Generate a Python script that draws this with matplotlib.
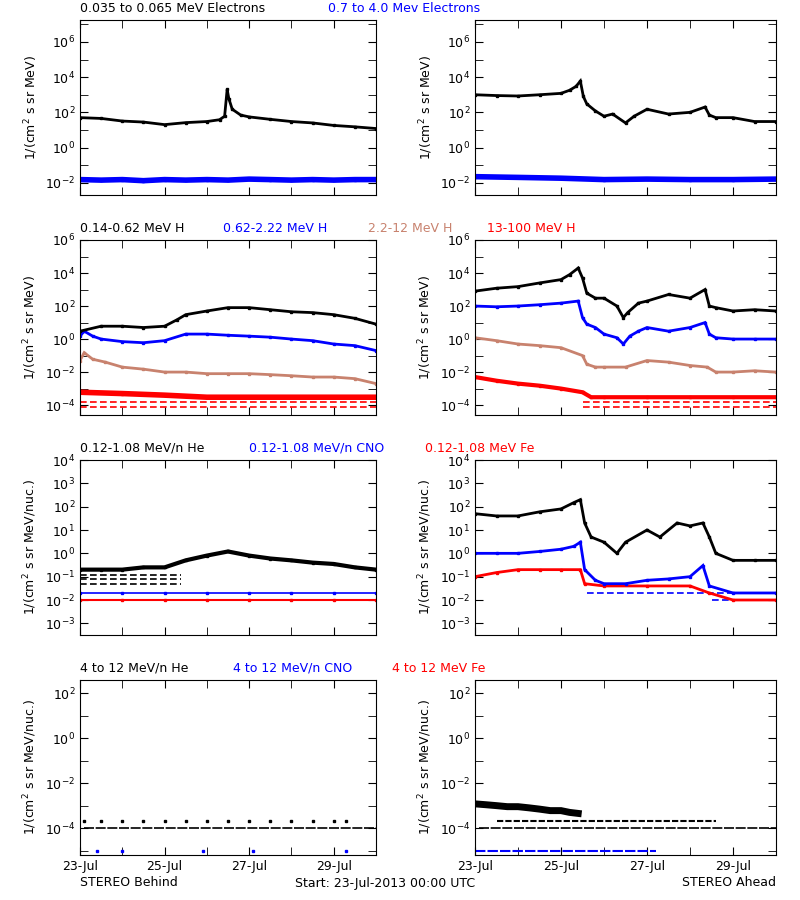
import numpy as np
import matplotlib
matplotlib.use("Agg")
import matplotlib.pyplot as plt
from matplotlib.ticker import FixedLocator, NullFormatter

# ---- data (days since 23-Jul-2013 00:00) ----
# row 1: electrons
e_lo_b_t = [0, 0.5, 1, 1.5, 2, 2.5, 3, 3.3, 3.42, 3.48, 3.52, 3.6, 3.8, 4, 4.5, 5, 5.5, 6, 6.5, 7]
e_lo_b_v = [50, 45, 32, 28, 20, 26, 30, 38, 60, 2000, 600, 150, 70, 55, 40, 30, 25, 18, 15, 12]
e_hi_b_t = [0, 0.5, 1, 1.5, 2, 2.5, 3, 3.5, 4, 4.5, 5, 5.5, 6, 6.5, 7]
e_hi_b_v = [0.015, 0.014, 0.015, 0.013, 0.015, 0.014, 0.015, 0.014, 0.016, 0.015, 0.014, 0.015, 0.014, 0.015, 0.015]
e_lo_a_t = [0, 0.5, 1, 1.5, 2, 2.2, 2.35, 2.45, 2.52, 2.6, 2.8, 3, 3.2, 3.5, 3.7, 4, 4.5, 5, 5.35, 5.45, 5.6, 6, 6.5, 7]
e_lo_a_v = [1000, 900, 850, 1000, 1200, 1800, 3000, 6000, 800, 300, 120, 60, 80, 25, 60, 150, 80, 100, 200, 70, 50, 50, 30, 30]
e_hi_a_t = [0, 1, 2, 3, 4, 5, 6, 7]
e_hi_a_v = [0.022, 0.02, 0.018, 0.015, 0.016, 0.015, 0.015, 0.016]

# row 2: protons
h1_b_t = [0, 0.5, 1, 1.5, 2, 2.3, 2.5, 3, 3.5, 4, 4.5, 5, 5.5, 6, 6.5, 7]
h1_b_v = [3, 6, 6, 5, 6, 15, 30, 50, 80, 80, 60, 45, 40, 30, 18, 8]
h2_b_t = [0, 0.1, 0.3, 0.5, 1, 1.5, 2, 2.5, 3, 3.5, 4, 4.5, 5, 5.5, 6, 6.5, 7]
h2_b_v = [1.5, 3, 1.5, 1, 0.7, 0.6, 0.8, 2, 2, 1.7, 1.5, 1.3, 1, 0.8, 0.5, 0.4, 0.2]
h3_b_t = [0, 0.1, 0.3, 0.6, 1, 1.5, 2, 2.5, 3, 3.5, 4, 4.5, 5, 5.5, 6, 6.5, 7]
h3_b_v = [0.05, 0.15, 0.06, 0.04, 0.02, 0.015, 0.01, 0.01, 0.008, 0.008, 0.008, 0.007, 0.006, 0.005, 0.005, 0.004, 0.002]
h4_b_t = [0, 1, 2, 3, 4, 5, 6, 7]
h4_b_v = [6e-4, 5e-4, 4e-4, 3e-4, 3e-4, 3e-4, 3e-4, 3e-4]
h1_a_t = [0, 0.5, 1, 1.5, 2, 2.2, 2.4, 2.5, 2.6, 2.8, 3, 3.3, 3.45, 3.55, 3.8, 4, 4.5, 5, 5.35, 5.45, 5.6, 6, 6.5, 7]
h1_a_v = [800, 1200, 1500, 2500, 4000, 8000, 20000, 5000, 600, 300, 300, 100, 20, 40, 150, 200, 500, 300, 1000, 100, 80, 50, 60, 50]
h2_a_t = [0, 0.5, 1, 1.5, 2, 2.4, 2.5, 2.6, 2.8, 3, 3.3, 3.45, 3.6, 3.8, 4, 4.5, 5, 5.35, 5.45, 5.6, 6, 6.5, 7]
h2_a_v = [100, 90, 100, 120, 150, 200, 20, 8, 5, 2, 1.2, 0.5, 1.5, 3, 5, 3, 5, 10, 2, 1.2, 1, 1, 1]
h3_a_t = [0, 0.5, 1, 1.5, 2, 2.5, 2.6, 2.8, 3, 3.5, 4, 4.5, 5, 5.4, 5.6, 6, 6.5, 7]
h3_a_v = [1.2, 0.8, 0.5, 0.4, 0.3, 0.1, 0.03, 0.02, 0.02, 0.02, 0.05, 0.04, 0.025, 0.02, 0.01, 0.01, 0.012, 0.01]
h4_a_t = [0, 0.5, 1, 1.5, 2, 2.5, 2.7, 3, 4, 5, 6, 7]
h4_a_v = [5e-3, 3e-3, 2e-3, 1.5e-3, 1e-3, 6e-4, 3e-4, 3e-4, 3e-4, 3e-4, 3e-4, 3e-4]
h_floor_levels = [1.5e-4, 8e-5]

# row 3: heavy ions, 0.12-1.08 MeV/n
he_b_t = [0, 0.5, 1, 1.5, 2, 2.5, 3, 3.5, 4, 4.5, 5, 5.5, 6, 6.5, 7]
he_b_v = [0.2, 0.2, 0.2, 0.25, 0.25, 0.5, 0.8, 1.2, 0.8, 0.6, 0.5, 0.4, 0.35, 0.25, 0.2]
he_b_levels = [0.12, 0.08, 0.05]
cno_b_t = [0, 1, 2, 3, 4, 5, 6, 7]
cno_b_v = [0.02, 0.02, 0.02, 0.02, 0.02, 0.02, 0.02, 0.02]
fe_b_t = [0, 1, 2, 3, 4, 5, 6, 7]
fe_b_v = [0.01, 0.01, 0.01, 0.01, 0.01, 0.01, 0.01, 0.01]
he_a_t = [0, 0.5, 1, 1.5, 2, 2.3, 2.45, 2.55, 2.7, 3, 3.3, 3.5, 4, 4.3, 4.7, 5, 5.3, 5.45, 5.6, 6, 6.5, 7]
he_a_v = [50, 40, 40, 60, 80, 150, 200, 20, 5, 3, 1, 3, 10, 5, 20, 15, 20, 5, 1, 0.5, 0.5, 0.5]
cno_a_t = [0, 0.5, 1, 1.5, 2, 2.3, 2.45, 2.55, 2.8, 3, 3.5, 4, 4.5, 5, 5.3, 5.45, 6, 7]
cno_a_v = [1, 1, 1, 1.2, 1.5, 2, 3, 0.2, 0.07, 0.05, 0.05, 0.07, 0.08, 0.1, 0.3, 0.04, 0.02, 0.02]
fe_a_t = [0, 0.5, 1, 1.5, 2, 2.45, 2.55, 3, 4, 5, 5.45, 6, 7]
fe_a_v = [0.1, 0.15, 0.2, 0.2, 0.2, 0.2, 0.05, 0.04, 0.04, 0.04, 0.02, 0.01, 0.01]

# row 4: heavy ions, 4-12 MeV/n
he4_b_t = [0.1, 0.5, 1, 1.5, 2, 2.5, 3, 3.5, 4, 4.5, 5, 5.5, 6, 6.3]
he4_b_v = [2e-4, 2e-4, 2e-4, 2e-4, 2e-4, 2e-4, 2e-4, 2e-4, 2e-4, 2e-4, 2e-4, 2e-4, 2e-4, 2e-4]
floor4 = 1e-4
cno4_b_t = [0.4, 1.0, 2.9, 4.1, 6.3]
cno4_b_v = [1e-5, 1e-5, 1e-5, 1e-5, 1e-5]
he4_a_t = [0, 0.25, 0.5, 0.75, 1, 1.25, 1.5, 1.75, 2, 2.2, 2.4]
he4_a_v = [1.2e-3, 1.1e-3, 1e-3, 9e-4, 9e-4, 8e-4, 7e-4, 6e-4, 6e-4, 5e-4, 4.5e-4]
he4_a_lvl_t = [0.5, 5.6]
he4_a_lvl_v = [2e-4, 2e-4]
cno4_a_t = [0, 4.2]
cno4_a_v = [1e-5, 1e-5]

day_labels = ["23-Jul", "25-Jul", "27-Jul", "29-Jul"]

BLUE = "#0000ff"
BROWN = "#c8826e"
RED = "#ff0000"

fig = plt.figure(figsize=(8, 9), dpi=100)
W, H = 800.0, 900.0
col_x = [80, 475]
col_w = [296, 301]
row_top = [20, 240, 460, 680]
row_h = 175
ylims = [(10**-2.7, 10**7.25), (10**-4.6, 1e6), (10**-3.5, 1e4), (10**-5.2, 10**2.6)]
major_y = [[1e-2, 1, 1e2, 1e4, 1e6], [1e-4, 1e-2, 1, 1e2, 1e4, 1e6],
           [1e-3, 1e-2, 1e-1, 1, 1e1, 1e2, 1e3, 1e4], [1e-4, 1e-2, 1, 1e2]]
minor_y = [[10.0**k for k in range(-2, 8)], [10.0**k for k in range(-4, 7)],
           [], [10.0**k for k in range(-5, 3)]]
ylab = ["1/(cm$^2$ s sr MeV)", "1/(cm$^2$ s sr MeV)",
        "1/(cm$^2$ s sr MeV/nuc.)", "1/(cm$^2$ s sr MeV/nuc.)"]

axes = {}
for r in range(4):
    for c in range(2):
        ax = fig.add_axes([col_x[c] / W, 1 - (row_top[r] + row_h) / H, col_w[c] / W, row_h / H])
        ax.set_yscale("log")
        ax.set_xlim(0, 7)
        ax.set_ylim(*ylims[r])
        ax.yaxis.set_major_locator(FixedLocator(major_y[r]))
        ax.yaxis.set_minor_locator(FixedLocator(minor_y[r]))
        ax.yaxis.set_minor_formatter(NullFormatter())
        ax.set_xticks([0, 2, 4, 6])
        ax.set_xticks([1, 3, 5], minor=True)
        ax.set_xticklabels(day_labels if r == 3 else [])
        ax.tick_params(which="both", direction="in", top=True, right=True, labelsize=9)
        ax.tick_params(which="major", length=6)
        ax.tick_params(which="minor", length=6)
        ax.set_ylabel(ylab[r], fontsize=9)
        axes[r, c] = ax


def dots(ax, t, v, color, lw=2.0):
    ax.plot(t, v, color=color, lw=lw, marker="s", ms=1.5, solid_joinstyle="miter")


def level(ax, y, color, t0=0, t1=7, ls=(0, (4, 2))):
    ax.plot([t0, t1], [y, y], color=color, lw=1.2, ls=ls)


# row 1
dots(axes[0, 0], e_hi_b_t, e_hi_b_v, BLUE, 4)
dots(axes[0, 0], e_lo_b_t, e_lo_b_v, "black")
dots(axes[0, 1], e_hi_a_t, e_hi_a_v, BLUE, 4)
dots(axes[0, 1], e_lo_a_t, e_lo_a_v, "black")

# row 2
ax = axes[1, 0]
for lv in h_floor_levels:
    level(ax, lv, RED)
dots(ax, h4_b_t, h4_b_v, RED, 4)
dots(ax, h3_b_t, h3_b_v, BROWN)
dots(ax, h2_b_t, h2_b_v, BLUE)
dots(ax, h1_b_t, h1_b_v, "black")
ax = axes[1, 1]
for lv in h_floor_levels:
    level(ax, lv, RED, t0=2.5)
dots(ax, h4_a_t, h4_a_v, RED, 3)
dots(ax, h3_a_t, h3_a_v, BROWN)
dots(ax, h2_a_t, h2_a_v, BLUE)
dots(ax, h1_a_t, h1_a_v, "black")

# row 3
ax = axes[2, 0]
dots(ax, fe_b_t, fe_b_v, RED, 1.5)
dots(ax, cno_b_t, cno_b_v, BLUE, 1.2)
for lv in he_b_levels:
    level(ax, lv, "black", t1=2.4)
dots(ax, he_b_t, he_b_v, "black", 3)
ax = axes[2, 1]
level(ax, 0.02, BLUE, t0=2.6)
level(ax, 0.01, BLUE, t0=5.5)
dots(ax, fe_a_t, fe_a_v, RED)
dots(ax, cno_a_t, cno_a_v, BLUE)
dots(ax, he_a_t, he_a_v, "black")

# row 4
ax = axes[3, 0]
level(ax, floor4, "black", t0=0.1, ls=(0, (6, 1)))
dots(ax, he4_b_t, he4_b_v, "black", 0)
ax.plot(cno4_b_t, cno4_b_v, "s", color=BLUE, ms=1.5)
ax = axes[3, 1]
level(ax, floor4, "black", t0=0.1, ls=(0, (6, 1)))
ax.plot(cno4_a_t, cno4_a_v, color=BLUE, lw=1.5, ls=(0, (5, 1)))
ax.plot(he4_a_lvl_t, he4_a_lvl_v, color="black", lw=1.5, ls=(0, (3, 1)))
dots(ax, he4_a_t, he4_a_v, "black", 5)

# panel titles
titles = [
    [("0.035 to 0.065 MeV Electrons", "black", 80), ("0.7 to 4.0 Mev Electrons", BLUE, 328)],
    [("0.14-0.62 MeV H", "black", 80), ("0.62-2.22 MeV H", BLUE, 223),
     ("2.2-12 MeV H", BROWN, 368), ("13-100 MeV H", RED, 487)],
    [("0.12-1.08 MeV/n He", "black", 80), ("0.12-1.08 MeV/n CNO", BLUE, 249),
     ("0.12-1.08 MeV Fe", RED, 425)],
    [("4 to 12 MeV/n He", "black", 80), ("4 to 12 MeV/n CNO", BLUE, 233),
     ("4 to 12 MeV Fe", RED, 392)],
]
for r in range(4):
    for txt, col, x in titles[r]:
        fig.text(x / W, 1 - (row_top[r] - 12) / H, txt, color=col, fontsize=9, va="center")

fig.text(80 / W, 1 - 883 / H, "STEREO Behind", fontsize=9, va="center")
fig.text(295 / W, 1 - 883 / H, "Start: 23-Jul-2013 00:00 UTC", fontsize=9, va="center")
fig.text(776 / W, 1 - 883 / H, "STEREO Ahead", fontsize=9, va="center", ha="right")

fig.savefig("out.png", dpi=100)
